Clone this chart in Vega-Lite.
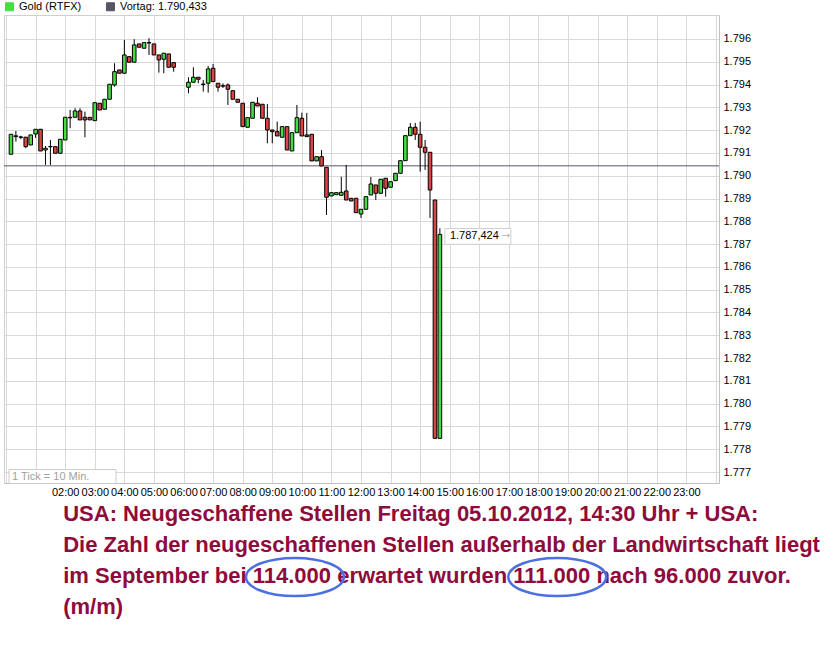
{
  "$schema": "https://vega.github.io/schema/vega-lite/v6.json",
  "width": 715,
  "height": 468,
  "padding": {"left": 3, "top": 1, "right": 0, "bottom": 0},
  "background": "white",
  "config": {
    "view": {"stroke": "#CFCFCF"},
    "font": "Liberation Sans",
    "axis": {"labelFont": "Liberation Sans", "labelFontSize": 11, "labelColor": "#000000", "gridColor": "#D9D9D9", "gridOpacity": 1, "ticks": false, "title": null, "domainColor": "#C0C0C0", "labelOverlap": false}
  },
  "datasets": {
    "candles": [
      {"time":"2012-10-05T00:10","open":1.790941,"high":1.791818,"low":1.790941,"close":1.791818},
      {"time":"2012-10-05T00:20","open":1.791750,"high":1.791963,"low":1.791494,"close":1.791713},
      {"time":"2012-10-05T00:30","open":1.791700,"high":1.791750,"low":1.791600,"close":1.791687},
      {"time":"2012-10-05T00:40","open":1.791690,"high":1.791690,"low":1.791204,"close":1.791274},
      {"time":"2012-10-05T00:50","open":1.791349,"high":1.791788,"low":1.791349,"close":1.791788},
      {"time":"2012-10-05T01:00","open":1.791831,"high":1.792038,"low":1.791656,"close":1.792038},
      {"time":"2012-10-05T01:10","open":1.792038,"high":1.792038,"low":1.791085,"close":1.791085},
      {"time":"2012-10-05T01:20","open":1.791129,"high":1.791305,"low":1.790471,"close":1.791204},
      {"time":"2012-10-05T01:30","open":1.791280,"high":1.791568,"low":1.790471,"close":1.791270},
      {"time":"2012-10-05T01:40","open":1.791274,"high":1.791274,"low":1.790984,"close":1.790984},
      {"time":"2012-10-05T01:50","open":1.790984,"high":1.791599,"low":1.790984,"close":1.791599},
      {"time":"2012-10-05T02:00","open":1.791568,"high":1.792564,"low":1.791568,"close":1.792564},
      {"time":"2012-10-05T02:10","open":1.792560,"high":1.792884,"low":1.792082,"close":1.792540},
      {"time":"2012-10-05T02:20","open":1.792564,"high":1.792959,"low":1.792564,"close":1.792841},
      {"time":"2012-10-05T02:30","open":1.792841,"high":1.792959,"low":1.792446,"close":1.792446},
      {"time":"2012-10-05T02:40","open":1.792564,"high":1.792810,"low":1.791687,"close":1.792446},
      {"time":"2012-10-05T02:50","open":1.792560,"high":1.792560,"low":1.792450,"close":1.792450},
      {"time":"2012-10-05T03:00","open":1.792415,"high":1.793205,"low":1.792415,"close":1.793205},
      {"time":"2012-10-05T03:10","open":1.793179,"high":1.793179,"low":1.792884,"close":1.792884},
      {"time":"2012-10-05T03:20","open":1.792915,"high":1.793354,"low":1.792915,"close":1.793354},
      {"time":"2012-10-05T03:30","open":1.793354,"high":1.794012,"low":1.793354,"close":1.794012},
      {"time":"2012-10-05T03:40","open":1.793981,"high":1.794934,"low":1.793907,"close":1.794565},
      {"time":"2012-10-05T03:50","open":1.794640,"high":1.794640,"low":1.794495,"close":1.794495},
      {"time":"2012-10-05T04:00","open":1.794495,"high":1.795956,"low":1.794495,"close":1.795298},
      {"time":"2012-10-05T04:10","open":1.795223,"high":1.795223,"low":1.794978,"close":1.794978},
      {"time":"2012-10-05T04:20","open":1.794978,"high":1.795987,"low":1.794978,"close":1.795737},
      {"time":"2012-10-05T04:30","open":1.795781,"high":1.795781,"low":1.795636,"close":1.795636},
      {"time":"2012-10-05T04:40","open":1.795592,"high":1.795838,"low":1.795592,"close":1.795838},
      {"time":"2012-10-05T04:50","open":1.795840,"high":1.796031,"low":1.795298,"close":1.795820},
      {"time":"2012-10-05T05:00","open":1.795781,"high":1.795781,"low":1.795298,"close":1.795298},
      {"time":"2012-10-05T05:10","open":1.795298,"high":1.795298,"low":1.794521,"close":1.795079},
      {"time":"2012-10-05T05:20","open":1.795109,"high":1.795373,"low":1.794495,"close":1.795373},
      {"time":"2012-10-05T05:30","open":1.795342,"high":1.795342,"low":1.794758,"close":1.794758},
      {"time":"2012-10-05T05:40","open":1.794960,"high":1.794960,"low":1.794565,"close":1.794758},
      {"time":"2012-10-05T06:10","open":1.793881,"high":1.794319,"low":1.793617,"close":1.794100},
      {"time":"2012-10-05T06:20","open":1.794100,"high":1.794758,"low":1.794100,"close":1.794319},
      {"time":"2012-10-05T06:30","open":1.794319,"high":1.794319,"low":1.794056,"close":1.794232},
      {"time":"2012-10-05T06:40","open":1.794020,"high":1.794201,"low":1.793687,"close":1.794000},
      {"time":"2012-10-05T06:50","open":1.794056,"high":1.794815,"low":1.793644,"close":1.794684},
      {"time":"2012-10-05T07:00","open":1.794714,"high":1.794903,"low":1.794126,"close":1.794126},
      {"time":"2012-10-05T07:10","open":1.794056,"high":1.794056,"low":1.793687,"close":1.793881},
      {"time":"2012-10-05T07:20","open":1.793950,"high":1.794050,"low":1.793850,"close":1.793930},
      {"time":"2012-10-05T07:30","open":1.793981,"high":1.794050,"low":1.793104,"close":1.793793},
      {"time":"2012-10-05T07:40","open":1.793731,"high":1.793731,"low":1.793354,"close":1.793354},
      {"time":"2012-10-05T07:50","open":1.793354,"high":1.793354,"low":1.793222,"close":1.793222},
      {"time":"2012-10-05T08:00","open":1.793179,"high":1.793179,"low":1.792152,"close":1.792152},
      {"time":"2012-10-05T08:10","open":1.792125,"high":1.792547,"low":1.792125,"close":1.792547},
      {"time":"2012-10-05T08:20","open":1.792520,"high":1.793222,"low":1.792520,"close":1.793222},
      {"time":"2012-10-05T08:30","open":1.793179,"high":1.793442,"low":1.793060,"close":1.793060},
      {"time":"2012-10-05T08:40","open":1.793135,"high":1.793135,"low":1.792520,"close":1.792520},
      {"time":"2012-10-05T08:50","open":1.792520,"high":1.793148,"low":1.791423,"close":1.792007},
      {"time":"2012-10-05T09:00","open":1.792007,"high":1.792007,"low":1.791423,"close":1.791932},
      {"time":"2012-10-05T09:10","open":1.791932,"high":1.792371,"low":1.791744,"close":1.791744},
      {"time":"2012-10-05T09:20","open":1.791687,"high":1.792152,"low":1.791687,"close":1.792152},
      {"time":"2012-10-05T09:30","open":1.792152,"high":1.792152,"low":1.791129,"close":1.791129},
      {"time":"2012-10-05T09:40","open":1.791085,"high":1.791888,"low":1.791085,"close":1.791888},
      {"time":"2012-10-05T09:50","open":1.791888,"high":1.793104,"low":1.791888,"close":1.792547},
      {"time":"2012-10-05T10:00","open":1.792520,"high":1.792766,"low":1.791744,"close":1.791744},
      {"time":"2012-10-05T10:10","open":1.791788,"high":1.792753,"low":1.791713,"close":1.791713},
      {"time":"2012-10-05T10:20","open":1.791818,"high":1.791818,"low":1.790647,"close":1.790647},
      {"time":"2012-10-05T10:30","open":1.790647,"high":1.790835,"low":1.790647,"close":1.790835},
      {"time":"2012-10-05T10:40","open":1.790835,"high":1.791129,"low":1.790427,"close":1.790427},
      {"time":"2012-10-05T10:50","open":1.790370,"high":1.790370,"low":1.788277,"close":1.789054},
      {"time":"2012-10-05T11:00","open":1.789111,"high":1.789256,"low":1.789111,"close":1.789256},
      {"time":"2012-10-05T11:10","open":1.789168,"high":1.789256,"low":1.789168,"close":1.789256},
      {"time":"2012-10-05T11:20","open":1.789142,"high":1.789958,"low":1.789142,"close":1.789273},
      {"time":"2012-10-05T11:30","open":1.789330,"high":1.790471,"low":1.788935,"close":1.788935},
      {"time":"2012-10-05T11:40","open":1.789010,"high":1.789010,"low":1.788891,"close":1.788891},
      {"time":"2012-10-05T11:50","open":1.789010,"high":1.789010,"low":1.788378,"close":1.788378},
      {"time":"2012-10-05T12:00","open":1.788321,"high":1.788527,"low":1.788145,"close":1.788527},
      {"time":"2012-10-05T12:10","open":1.788527,"high":1.789080,"low":1.788527,"close":1.789080},
      {"time":"2012-10-05T12:20","open":1.789155,"high":1.789945,"low":1.789155,"close":1.789637},
      {"time":"2012-10-05T12:30","open":1.789594,"high":1.789594,"low":1.788935,"close":1.789229},
      {"time":"2012-10-05T12:40","open":1.789229,"high":1.789844,"low":1.789229,"close":1.789844},
      {"time":"2012-10-05T12:50","open":1.789888,"high":1.789888,"low":1.789080,"close":1.789449},
      {"time":"2012-10-05T13:00","open":1.789493,"high":1.789738,"low":1.789493,"close":1.789738},
      {"time":"2012-10-05T13:10","open":1.789782,"high":1.790107,"low":1.789782,"close":1.790107},
      {"time":"2012-10-05T13:20","open":1.790107,"high":1.790660,"low":1.790107,"close":1.790660},
      {"time":"2012-10-05T13:30","open":1.790660,"high":1.791757,"low":1.790660,"close":1.791757},
      {"time":"2012-10-05T13:40","open":1.791757,"high":1.792314,"low":1.791757,"close":1.792125},
      {"time":"2012-10-05T13:50","open":1.792125,"high":1.792314,"low":1.791568,"close":1.791818},
      {"time":"2012-10-05T14:00","open":1.791818,"high":1.792371,"low":1.790177,"close":1.791248},
      {"time":"2012-10-05T14:10","open":1.791248,"high":1.791568,"low":1.790252,"close":1.791028},
      {"time":"2012-10-05T14:20","open":1.791028,"high":1.791028,"low":1.788145,"close":1.789374},
      {"time":"2012-10-05T14:30","open":1.788935,"high":1.788935,"low":1.778479,"close":1.778479},
      {"time":"2012-10-05T14:40","open":1.778479,"high":1.787694,"low":1.778479,"close":1.787424}
    ],
    "prevclose": [{"series": "Vortag: 1.790,433", "price": 1.790433}],
    "lastquote": [{"time": "2012-10-05T14:40", "price": 1.787424, "label": "1.787,424"}],
    "notes": [{"note": "1 Tick = 10 Min.", "time": "2012-10-05T00:06", "price": 1.77652}],
    "caption": [
      {"time": "2012-10-05T01:56", "price": 1.774853, "lines": [
        "USA: Neugeschaffene Stellen Freitag 05.10.2012, 14:30 Uhr  + USA:",
        "Die Zahl der neugeschaffenen Stellen außerhalb der Landwirtschaft liegt",
        "im September bei 114.000 erwartet wurden 111.000 nach 96.000 zuvor.",
        "(m/m)"
      ]}
    ],
    "ovals": [
      {"label": "114.000", "time": "2012-10-05T09:46", "price": 1.772396},
      {"label": "111.000", "time": "2012-10-05T18:38", "price": 1.772396}
    ]
  },
  "layer": [
    {
      "data": {"name": "prevclose"},
      "mark": {"type": "rule", "strokeWidth": 1},
      "encoding": {
        "y": {
          "field": "price", "type": "quantitative",
          "scale": {"domain": [1.77652, 1.79705], "nice": false, "zero": false},
          "axis": {"orient": "right", "values": [1.777, 1.778, 1.779, 1.78, 1.781, 1.782, 1.783, 1.784, 1.785, 1.786, 1.787, 1.788, 1.789, 1.79, 1.791, 1.792, 1.793, 1.794, 1.795, 1.796], "tickCount": 30, "format": ".3f", "labelPadding": 4, "grid": true, "labelFlush": false, "labelOverlap": false}
        },
        "color": {
          "field": "series", "type": "nominal",
          "scale": {"domain": ["Gold (RTFX)", "Vortag: 1.790,433"], "range": ["#44DD44", "#555566"]},
          "legend": {
            "orient": "none", "legendX": 0, "legendY": -14, "direction": "horizontal", "title": null,
            "symbolType": "square", "symbolSize": 64, "symbolStrokeColor": "#000000", "symbolStrokeWidth": 1,
            "labelFontSize": 11, "labelColor": "#000000", "labelFont": "Liberation Sans",
            "columnPadding": 22, "labelOffset": 4, "padding": 0,
            "encode": {"symbols": {"update": {"fill": {"scale": "color", "field": "value"}, "stroke": {"value": "#000000"}}}}
          }
        }
      }
    },
    {
      "data": {"name": "candles"},
      "mark": {"type": "rule", "color": "#000000", "strokeWidth": 1},
      "encoding": {
        "x": {
          "field": "time", "type": "temporal",
          "scale": {"domain": [{"year": 2012, "month": 10, "date": 5, "hours": 0, "minutes": 6}, {"year": 2012, "month": 10, "date": 5, "hours": 23, "minutes": 56}], "nice": false},
          "axis": {"tickCount": 24, "labelExpr": "hours(datum.value) < 2 ? '' : timeFormat(datum.value, '%H:%M')", "labelPadding": 3, "grid": true, "labelFlush": false, "labelOverlap": false}
        },
        "y": {
          "field": "low", "type": "quantitative",
          "axis": {"orient": "right", "values": [1.777, 1.778, 1.779, 1.78, 1.781, 1.782, 1.783, 1.784, 1.785, 1.786, 1.787, 1.788, 1.789, 1.79, 1.791, 1.792, 1.793, 1.794, 1.795, 1.796], "tickCount": 30, "format": ".3f", "labelPadding": 4, "grid": true, "labelFlush": false, "labelOverlap": false}
        },
        "y2": {"field": "high"}
      }
    },
    {
      "data": {"name": "candles"},
      "mark": {"type": "bar", "size": 3.6, "stroke": "#000000", "strokeWidth": 1},
      "encoding": {
        "x": {"field": "time", "type": "temporal"},
        "y": {"field": "open", "type": "quantitative"},
        "y2": {"field": "close"},
        "fill": {"condition": {"test": "datum.close >= datum.open", "value": "#44DD44"}, "value": "#D94444"}
      }
    },
    {
      "data": {"name": "lastquote"},
      "mark": {"type": "point", "shape": "M-1,-0.24L1,-0.24L1,0.24L-1,0.24Z", "size": 4356, "filled": true, "fill": "#FFFFFF", "stroke": "#D0D0D0", "strokeWidth": 1, "opacity": 1, "xOffset": 38, "yOffset": 2},
      "encoding": {"x": {"field": "time", "type": "temporal"}, "y": {"field": "price", "type": "quantitative"}}
    },
    {
      "data": {"name": "lastquote"},
      "mark": {"type": "text", "align": "left", "baseline": "middle", "dx": 10, "dy": 2, "fontSize": 11, "font": "Liberation Sans", "color": "#000000"},
      "encoding": {"x": {"field": "time", "type": "temporal"}, "y": {"field": "price", "type": "quantitative"}, "text": {"field": "label"}}
    },
    {
      "data": {"name": "lastquote"},
      "mark": {"type": "text", "align": "left", "baseline": "middle", "dx": 61, "dy": 2, "fontSize": 11, "font": "DejaVu Sans", "color": "#BBBBBB", "text": "→"},
      "encoding": {"x": {"field": "time", "type": "temporal"}, "y": {"field": "price", "type": "quantitative"}}
    },
    {
      "data": {"name": "notes"},
      "mark": {"type": "point", "shape": "M-1,-0.131L1,-0.131L1,0.131L-1,0.131Z", "size": 11449, "filled": true, "fill": "#FFFFFF", "stroke": "#CCCCCC", "strokeWidth": 1, "opacity": 1, "xOffset": 53.5, "yOffset": -6.5},
      "encoding": {"x": {"field": "time", "type": "temporal"}, "y": {"field": "price", "type": "quantitative"}}
    },
    {
      "data": {"name": "notes"},
      "mark": {"type": "text", "align": "left", "baseline": "bottom", "dx": 3, "dy": -1, "fontSize": 11, "font": "Liberation Sans", "color": "#A0A0A0"},
      "encoding": {"x": {"field": "time", "type": "temporal"}, "y": {"field": "price", "type": "quantitative"}, "text": {"field": "note"}}
    },
    {
      "data": {"name": "caption"},
      "mark": {"type": "text", "align": "left", "baseline": "alphabetic", "font": "Liberation Sans", "fontSize": 22, "fontWeight": "bold", "color": "#8E0B3B", "lineHeight": 31, "lineBreak": "\n"},
      "encoding": {"x": {"field": "time", "type": "temporal"}, "y": {"field": "price", "type": "quantitative"}, "text": {"field": "lines"}}
    },
    {
      "data": {"name": "ovals"},
      "mark": {"type": "point", "shape": "M-1,0C-1,-0.2154 -0.5523,-0.39 0,-0.39C0.5523,-0.39 1,-0.2154 1,0C1,0.2154 0.5523,0.39 0,0.39C-0.5523,0.39 -1,0.2154 -1,0Z", "size": 9604, "filled": false, "stroke": "#4D6FE0", "strokeWidth": 2.5, "opacity": 1},
      "encoding": {"x": {"field": "time", "type": "temporal"}, "y": {"field": "price", "type": "quantitative"}}
    }
  ]
}
